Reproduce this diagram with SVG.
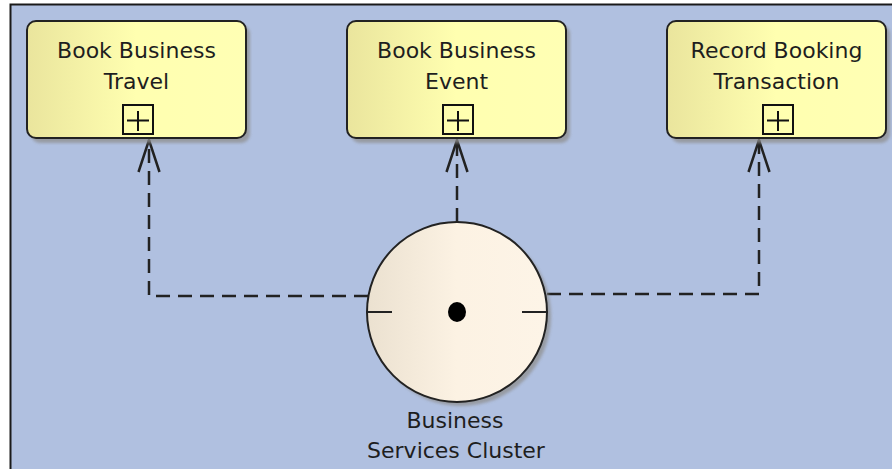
<svg xmlns="http://www.w3.org/2000/svg" width="892" height="469" viewBox="0 0 892 469">
  <style>
    .lbl { font-family: "DejaVu Sans", "Liberation Sans", sans-serif; font-size: 22px; fill: #1e1e1e; text-anchor: middle; }
    .box { fill: url(#boxGrad); stroke: #222; stroke-width: 2; }
    .shadow { fill: #8f8f8f; opacity: 0.75; filter: url(#blur); }
    .conn { fill: none; stroke: #222; stroke-width: 2.5; stroke-dasharray: 14 8; }
    .icon { fill: none; stroke: #111; stroke-width: 2; }
  </style>
  <defs>
    <linearGradient id="boxGrad" x1="0" y1="0" x2="1" y2="0">
      <stop offset="0" stop-color="#EAE59D"/>
      <stop offset="0.5" stop-color="#FFFFB0"/>
      <stop offset="1" stop-color="#FFFFB4"/>
    </linearGradient>
    <linearGradient id="circGrad" x1="0" y1="0" x2="1" y2="0">
      <stop offset="0" stop-color="#EBE1D0"/>
      <stop offset="0.5" stop-color="#FCF2E3"/>
      <stop offset="1" stop-color="#FDF4E7"/>
    </linearGradient>
    <filter id="blur" x="-10%" y="-10%" width="120%" height="120%">
      <feGaussianBlur stdDeviation="1.5"/>
    </filter>
    <marker id="arrow" markerUnits="userSpaceOnUse" viewBox="-36 -14 40 28" markerWidth="40" markerHeight="28" refX="0" refY="0" orient="auto">
      <path d="M-32,-10.5 L0,0 L-32,10.5" fill="none" stroke="#222" stroke-width="2.5" stroke-dasharray="none"/>
    </marker>
    <g id="plus">
      <rect x="-15" y="-14.5" width="30" height="29" class="icon"/>
      <path d="M-11,1 H11 M0,-8.5 V11.5" class="icon"/>
    </g>
  </defs>

  <rect x="0" y="0" width="892" height="469" fill="#FFFFFF"/>
  <rect id="frame" x="10.5" y="4.5" width="900" height="500" fill="#B0C0E0" stroke="#1a1a1a" stroke-width="2"/>

  <g id="connectors">
    <path class="conn" d="M368,296 H149 V140" marker-end="url(#arrow)"/>
    <path class="conn" d="M457,222 V140" marker-end="url(#arrow)"/>
    <path class="conn" d="M547,294 H759 V140" marker-end="url(#arrow)"/>
  </g>

  <g id="node-book-business-travel">
    <rect class="shadow" x="31" y="25" width="219" height="118" rx="9"/>
    <rect class="box" x="27" y="21" width="219" height="117" rx="9"/>
    <text class="lbl" x="136.5" y="58">Book Business</text>
    <text class="lbl" x="136.5" y="89">Travel</text>
    <use href="#plus" x="138" y="119.5"/>
  </g>

  <g id="node-book-business-event">
    <rect class="shadow" x="351" y="25" width="219" height="118" rx="9"/>
    <rect class="box" x="347" y="21" width="219" height="117" rx="9"/>
    <text class="lbl" x="456.5" y="58">Book Business</text>
    <text class="lbl" x="456.5" y="89">Event</text>
    <use href="#plus" x="458" y="119.5"/>
  </g>

  <g id="node-record-booking-transaction">
    <rect class="shadow" x="671" y="25" width="219" height="118" rx="9"/>
    <rect class="box" x="667" y="21" width="219" height="117" rx="9"/>
    <text class="lbl" x="776.5" y="58">Record Booking</text>
    <text class="lbl" x="776.5" y="89">Transaction</text>
    <use href="#plus" x="778" y="119.5"/>
  </g>

  <g id="node-business-services-cluster">
    <circle class="shadow" cx="461" cy="316" r="90"/>
    <circle cx="457" cy="312" r="90" fill="url(#circGrad)" stroke="#222" stroke-width="2"/>
    <path d="M366,312 H392 M522,312 H548" stroke="#222" stroke-width="2" fill="none"/>
    <ellipse cx="457" cy="312" rx="9" ry="10" fill="#000"/>
    <text class="lbl" x="455" y="428">Business</text>
    <text class="lbl" x="456" y="458">Services Cluster</text>
  </g>
</svg>
